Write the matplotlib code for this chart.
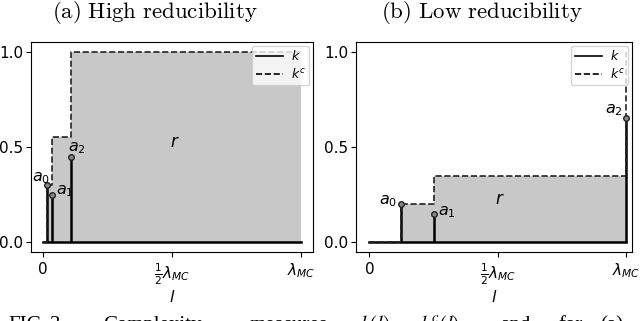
import numpy as np
import matplotlib
matplotlib.use("Agg")
import matplotlib.pyplot as plt
from matplotlib.lines import Line2D

plt.rcParams['mathtext.fontset'] = 'dejavusans'

# ---- data ----
titles = [r"$\mathrm{(a)\ High\ reducibility}$", r"$\mathrm{(b)\ Low\ reducibility}$"]
labels = ["$a_0$", "$a_1$", "$a_2$"]
pos_high = [0.015, 0.033, 0.107]
k_high = [0.30, 0.25, 0.45]
pos_low = [0.125, 0.25, 1.0]
k_low = [0.20, 0.15, 0.65]
r_pos_high = (0.51, 0.525)
r_pos_low = (0.51, 0.225)
xtick_vals = [0, 0.5, 1.0]
xtick_labels = ["0", r"$\frac{1}{2}\lambda_{MC}$", r"$\lambda_{MC}$"]
ytick_vals = [0.0, 0.5, 1.0]
ytick_labels = ["0.0", "0.5", "1.0"]
caption_words = ["FIG.", "3.", "Complexity", "measures", "$k(l)$,", "$k^c(l)$", "and", "$r$", "for", "(a)"]
caption_x = [8, 50, 103, 250, 360, 420, 500, 540, 558, 600]

# label offsets (pixels) and alignments
lab_high = [((3, 7), 'right', 'center'), ((4, 4), 'left', 'center'), ((-3, 1), 'left', 'bottom')]
lab_low = [((-4, 3), 'right', 'center'), ((4, 2), 'left', 'center'), ((-3, 8), 'right', 'center')]

fig = plt.figure(figsize=(6.4, 3.21), dpi=100)
ax1 = fig.add_axes([31/640, 1-252/321, 282/640, 210/321])
ax2 = fig.add_axes([356/640, 1-252/321, 276/640, 210/321])

def draw(ax, pos, kv, rpos, labs, xlim):
    kc = np.cumsum(kv)
    px = np.concatenate([[0.0], pos, [1.0]])
    py = np.concatenate([[0.0], kc, [kc[-1]]])
    fx = np.concatenate([pos, [1.0]])
    fy = np.concatenate([kc, [kc[-1]]])
    ax.fill_between(fx, fy, 0, step='post', color='#c8c8c8', lw=0, zorder=1)
    ax.plot([0, 1], [0, 0], color='black', lw=1.8, zorder=3)
    ax.vlines(pos, 0, kv, color='black', lw=1.8, zorder=3)
    ax.step(px, py, where='post', color='#222222', ls='--', lw=1.2, zorder=4)
    ax.plot(pos, kv, 'o', ms=4, mfc='#888888', mec='#222222', mew=1, zorder=5)
    for p, v, lab, (off, ha, va) in zip(pos, kv, labels, labs):
        ax.annotate(lab, (p, v), xytext=(off[0]*0.72, off[1]*0.72), textcoords='offset points',
                    ha=ha, va=va, fontsize=11.5, zorder=6)
    ax.text(rpos[0], rpos[1], "$r$", fontsize=12, ha='center', va='center')
    ax.set_xlim(*xlim)
    ax.set_ylim(-0.05, 1.05)
    ax.set_xticks(xtick_vals)
    ax.set_xticklabels(xtick_labels)
    ax.set_yticks(ytick_vals)
    ax.set_yticklabels(ytick_labels)
    ax.tick_params(axis='both', labelsize=11, length=3.5)
    ax.tick_params(axis='y', pad=2)
    ax.set_xlabel("$l$", fontsize=11.5, labelpad=1)
    handles = [Line2D([], [], color='black', lw=1.2),
               Line2D([], [], color='black', lw=1.2, ls='--')]
    ax.legend(handles, ["$k$", "$k^c$"], loc='upper right', fontsize=9,
              handlelength=2.2, borderpad=0.3, labelspacing=0.3, handletextpad=0.6,
              borderaxespad=0.3, framealpha=0.8)

draw(ax1, pos_high, k_high, r_pos_high, lab_high, (-0.047, 1.047))
draw(ax2, pos_low, k_low, r_pos_low, lab_low, (-0.052, 1.023))

fig.text(155/640, 1-13/321, titles[0], ha='center', va='center',
         fontsize=16.5, math_fontfamily='cm')
fig.text(482/640, 1-13/321, titles[1], ha='center', va='center',
         fontsize=16.5, math_fontfamily='cm')
for w, x in zip(caption_words, caption_x):
    fig.text(x/640, 1-330/321, w, ha='left', va='baseline', fontsize=15,
             family='Liberation Serif', math_fontfamily='stix')

fig.savefig("out.png", dpi=100)
